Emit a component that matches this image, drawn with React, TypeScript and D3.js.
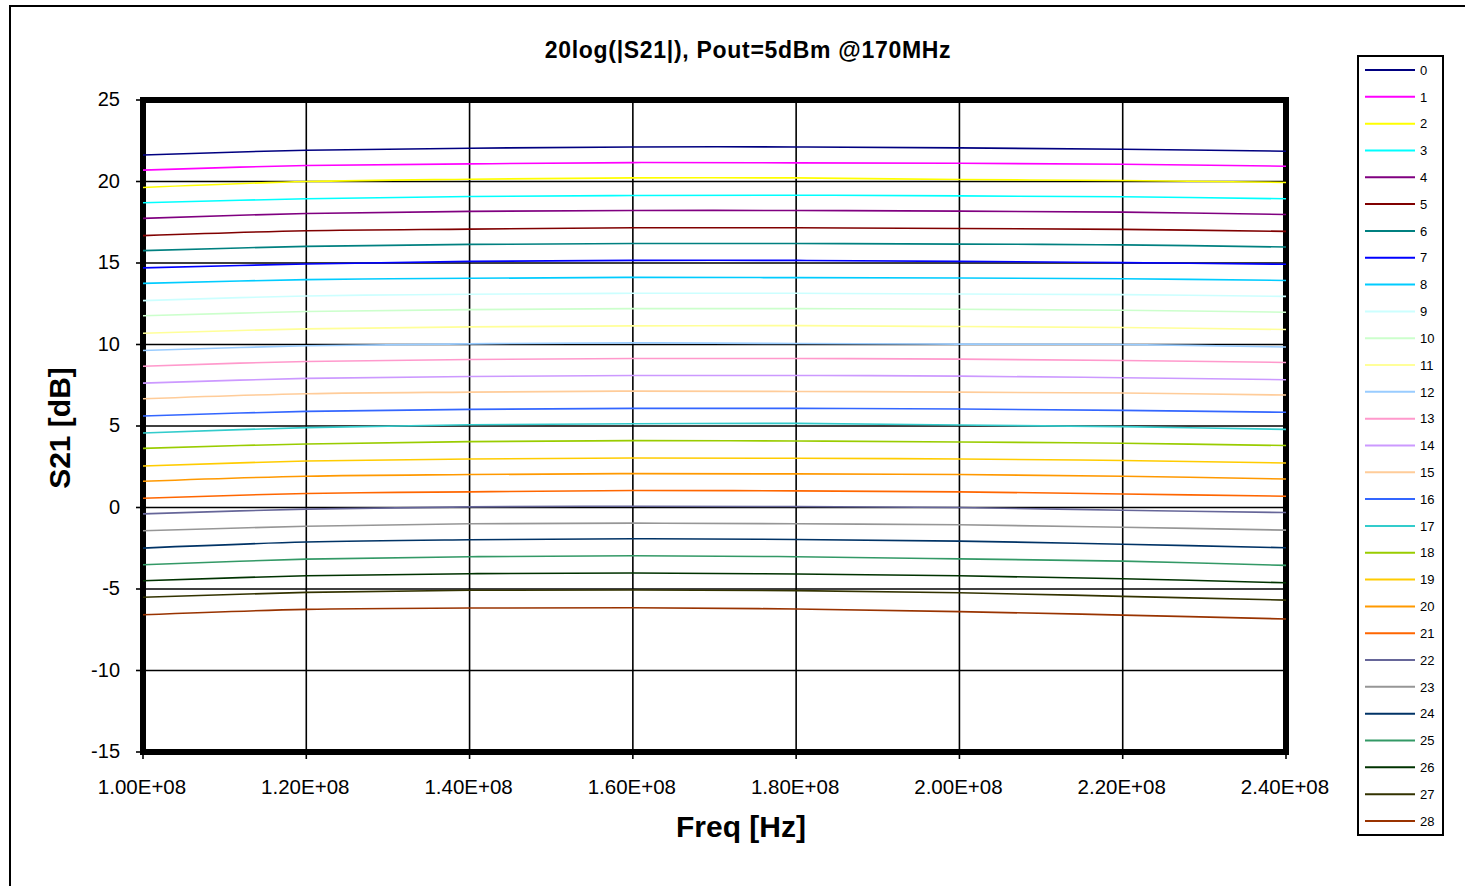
import React from "react";
import * as d3 from "d3";

const freqs = [1.0e8, 1.2e8, 1.4e8, 1.6e8, 1.8e8, 2.0e8, 2.2e8, 2.4e8];
const xTicks = [1.0e8, 1.2e8, 1.4e8, 1.6e8, 1.8e8, 2.0e8, 2.2e8, 2.4e8];
const xTickLabels = ["1.00E+08", "1.20E+08", "1.40E+08", "1.60E+08", "1.80E+08", "2.00E+08", "2.20E+08", "2.40E+08"];
const yTicks = [25, 20, 15, 10, 5, 0, -5, -10, -15];

const seriesNames = ["0","1","2","3","4","5","6","7","8","9","10","11","12","13","14","15","16","17","18","19","20","21","22","23","24","25","26","27","28"];

const seriesColors = [
  "#000080", "#FF00FF", "#FFFF00", "#00FFFF", "#800080", "#800000", "#008080", "#0000FF",
  "#00CCFF", "#CCFFFF", "#CCFFCC", "#FFFF99", "#99CCFF", "#FF99CC", "#CC99FF", "#FFCC99",
  "#3366FF", "#33CCCC", "#99CC00", "#FFCC00", "#FF9900", "#FF6600", "#666699", "#969696",
  "#003366", "#339966", "#003300", "#333300", "#993300",
];

const seriesValues: number[][] = [
  [21.63, 21.92, 22.04, 22.12, 22.12, 22.06, 21.98, 21.86],
  [20.70, 20.98, 21.08, 21.16, 21.14, 21.12, 21.06, 20.94],
  [19.63, 20.00, 20.14, 20.22, 20.22, 20.12, 20.06, 19.94],
  [18.70, 18.94, 19.08, 19.14, 19.16, 19.12, 19.06, 18.94],
  [17.74, 18.04, 18.17, 18.22, 18.22, 18.18, 18.12, 17.98],
  [16.68, 16.98, 17.08, 17.16, 17.16, 17.12, 17.06, 16.94],
  [15.76, 16.02, 16.14, 16.20, 16.20, 16.16, 16.11, 15.98],
  [14.70, 14.94, 15.10, 15.16, 15.16, 15.10, 15.02, 14.92],
  [13.75, 13.98, 14.06, 14.12, 14.10, 14.08, 14.03, 13.93],
  [12.69, 12.98, 13.08, 13.14, 13.14, 13.10, 13.06, 12.95],
  [11.76, 12.02, 12.14, 12.20, 12.20, 12.16, 12.10, 11.98],
  [10.69, 10.96, 11.08, 11.14, 11.16, 11.10, 11.04, 10.92],
  [9.63, 9.92, 10.04, 10.10, 10.06, 10.02, 10.00, 9.85],
  [8.67, 8.96, 9.08, 9.14, 9.14, 9.10, 9.02, 8.90],
  [7.63, 7.92, 8.04, 8.10, 8.10, 8.06, 7.96, 7.84],
  [6.67, 6.98, 7.08, 7.14, 7.12, 7.08, 7.02, 6.90],
  [5.61, 5.90, 6.02, 6.08, 6.08, 6.04, 5.96, 5.84],
  [4.57, 4.90, 5.08, 5.14, 5.16, 5.06, 4.96, 4.79],
  [3.63, 3.90, 4.04, 4.10, 4.08, 4.02, 3.94, 3.80],
  [2.55, 2.85, 2.98, 3.04, 3.02, 2.98, 2.88, 2.73],
  [1.61, 1.92, 2.02, 2.08, 2.06, 2.02, 1.92, 1.75],
  [0.57, 0.86, 0.96, 1.04, 1.02, 0.96, 0.83, 0.69],
  [-0.39, -0.10, 0.04, 0.08, 0.06, 0.00, -0.17, -0.31],
  [-1.43, -1.15, -1.00, -0.96, -1.00, -1.06, -1.21, -1.39],
  [-2.49, -2.12, -1.98, -1.92, -1.96, -2.06, -2.25, -2.47],
  [-3.51, -3.17, -3.02, -2.96, -3.02, -3.15, -3.29, -3.55],
  [-4.49, -4.19, -4.06, -4.02, -4.08, -4.19, -4.37, -4.62],
  [-5.51, -5.21, -5.08, -5.06, -5.10, -5.23, -5.45, -5.68],
  [-6.58, -6.25, -6.17, -6.15, -6.23, -6.39, -6.60, -6.84],
];

const W = 1465;
const H = 886;
const plot = { left: 143, right: 1286, top: 100, bottom: 752 };
const FONT = "'Liberation Sans', Arial, sans-serif";

export default function App() {
  const x = d3.scaleLinear().domain([1.0e8, 2.4e8]).range([plot.left, plot.right]);
  const y = d3.scaleLinear().domain([-15, 25]).range([plot.bottom, plot.top]);
  const line = d3
    .line<[number, number]>()
    .x((d) => x(d[0]))
    .y((d) => y(d[1]))
    .curve(d3.curveCatmullRom.alpha(0.5));

  const legend = { left: 1358, top: 56, right: 1443, bottom: 835, firstY: 70, step: 26.82 };

  return (
    <svg
      width={W}
      height={H}
      style={{ position: "absolute", left: 0, top: 0, background: "#fff" }}
      fontFamily={FONT}
    >
      <rect x={0} y={0} width={W} height={H} fill="#fff" />
      {/* outer chart border */}
      <rect x={10} y={6} width={W + 20} height={H + 20} fill="none" stroke="#000" strokeWidth={2} />

      {/* title */}
      <text x={748} y={58} textAnchor="middle" fontSize={23} fontWeight="bold" letterSpacing={0.7}>
        20log(|S21|), Pout=5dBm @170MHz
      </text>

      {/* gridlines */}
      {yTicks.slice(1, -1).map((t) => (
        <line key={"gy" + t} x1={plot.left} x2={plot.right} y1={y(t)} y2={y(t)} stroke="#000" strokeWidth={1.6} />
      ))}
      {xTicks.slice(1, -1).map((t) => (
        <line key={"gx" + t} x1={x(t)} x2={x(t)} y1={plot.top} y2={plot.bottom} stroke="#000" strokeWidth={1.6} />
      ))}

      {/* ticks */}
      {yTicks.map((t) => (
        <line key={"ty" + t} x1={plot.left - 7} x2={plot.left} y1={y(t)} y2={y(t)} stroke="#000" strokeWidth={1.6} />
      ))}
      {xTicks.map((t) => (
        <line key={"tx" + t} x1={x(t)} x2={x(t)} y1={plot.bottom} y2={plot.bottom + 7} stroke="#000" strokeWidth={1.6} />
      ))}

      {/* plot frame */}
      <rect
        x={plot.left}
        y={plot.top}
        width={plot.right - plot.left}
        height={plot.bottom - plot.top}
        fill="none"
        stroke="#000"
        strokeWidth={6}
      />

      {/* series */}
      {seriesValues.map((vals, i) => (
        <path
          key={"s" + i}
          d={line(vals.map((v, j) => [freqs[j], v] as [number, number])) || ""}
          fill="none"
          stroke={seriesColors[i]}
          strokeWidth={1.6}
        />
      ))}

      {/* y tick labels */}
      {yTicks.map((t) => (
        <text key={"ly" + t} x={120} y={y(t) - 1} dy="0.36em" textAnchor="end" fontSize={20}>
          {t}
        </text>
      ))}
      {/* x tick labels */}
      {xTicks.map((t, i) => (
        <text key={"lx" + t} x={x(t) - 1} y={794} textAnchor="middle" fontSize={20.5}>
          {xTickLabels[i]}
        </text>
      ))}

      {/* axis titles */}
      <text x={741} y={837} textAnchor="middle" fontSize={30} fontWeight="bold">
        Freq [Hz]
      </text>
      <text
        transform={`translate(70, ${428}) rotate(-90)`}
        textAnchor="middle"
        fontSize={30}
        fontWeight="bold"
      >
        S21 [dB]
      </text>

      {/* legend */}
      <rect
        x={legend.left}
        y={legend.top}
        width={legend.right - legend.left}
        height={legend.bottom - legend.top}
        fill="#fff"
        stroke="#000"
        strokeWidth={2}
      />
      {seriesNames.map((name, i) => {
        const ly = legend.firstY + i * legend.step;
        return (
          <g key={"lg" + i}>
            <line x1={1365} x2={1415} y1={ly} y2={ly} stroke={seriesColors[i]} strokeWidth={2} />
            <text x={1420} y={ly} dy="0.36em" fontSize={13}>
              {name}
            </text>
          </g>
        );
      })}
    </svg>
  );
}
